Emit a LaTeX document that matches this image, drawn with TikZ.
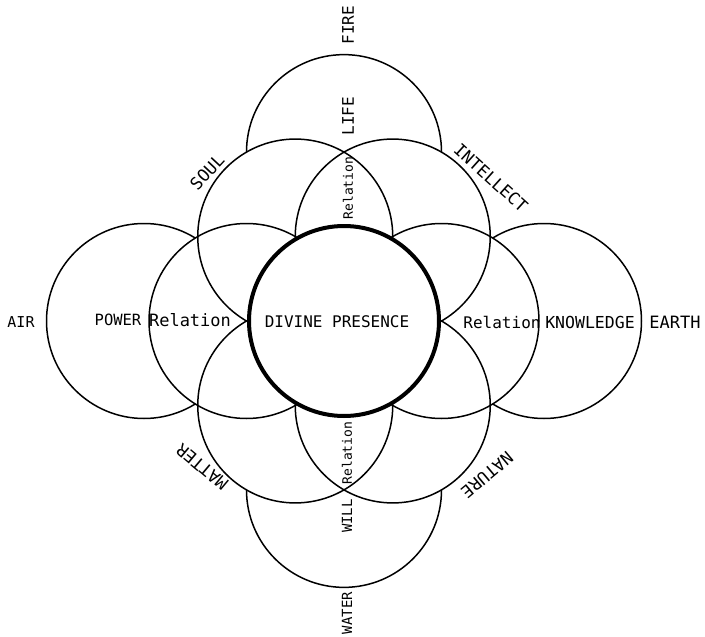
\documentclass[tikz,border=0pt]{standalone}
\usepackage{fontspec}
\setmainfont{DejaVu Sans Mono}
\newcommand{\fs}[1]{\fontsize{#1}{#1}\selectfont}
\begin{document}
\begin{tikzpicture}[x=1pt,y=1pt,
  ring/.style={line width=1.5pt},
  holy/.style={line width=4pt, fill=white},
  lbl/.style={inner sep=0pt, text=black},
]
\useasboundingbox (0,0) rectangle (705,-637);
\fill[white] (0,0) rectangle (705,-637);
\begin{scope}[shift={(344,-321)}]
  % outer circles: fire, water, air, earth
  \draw[ring] (90:168.87) circle[radius=97.5pt];
  \draw[ring] (270:168.87) circle[radius=97.5pt];
  \draw[ring] (180:200) circle[radius=97.5pt];
  \draw[ring] (0:200) circle[radius=97.5pt];
  % hide the outer circles under the six petals
  \foreach \a in {0,60,120,180,240,300}
    \fill[white] (\a:97.5) circle[radius=97.5pt];
  % six petal circles
  \foreach \a in {0,60,120,180,240,300}
    \draw[ring] (\a:97.5) circle[radius=97.5pt];
  % divine presence circle
  \draw[holy] (0,0) circle[radius=95pt];
\end{scope}
% labels
\node[lbl, font=\fs{16}, rotate=90] (fire) at (348,-25) {FIRE};
\node[lbl, font=\fs{16}, rotate=90] (life) at (348,-116) {LIFE};
\node[lbl, font=\fs{13}, rotate=90] (reltop) at (348,-188) {Relation};
\node[lbl, font=\fs{17}, rotate=47] (soul) at (207,-172) {SOUL};
\node[lbl, font=\fs{17}, rotate=-42] (intellect) at (491,-178) {INTELLECT};
\node[lbl, font=\fs{15}] (air) at (21,-322) {AIR};
\node[lbl, font=\fs{15.5}] (power) at (118,-320) {POWER};
\node[lbl, font=\fs{17}] (relleft) at (190,-320) {Relation};
\node[lbl, font=\fs{16}] (divine) at (337,-322) {DIVINE PRESENCE};
\node[lbl, font=\fs{16}] (relright) at (502,-322) {Relation};
\node[lbl, font=\fs{16.5}] (knowledge) at (590,-322) {KNOWLEDGE};
\node[lbl, font=\fs{17}] (earth) at (675,-322) {EARTH};
\node[lbl, font=\fs{17}, rotate=140] (matter) at (202,-467) {MATTER};
\node[lbl, font=\fs{17}, rotate=-140] (nature) at (487,-475) {NATURE};
\node[lbl, font=\fs{13}, rotate=90] (relbottom) at (347,-453) {Relation};
\node[lbl, font=\fs{14}, rotate=90] (will) at (347,-516) {WILL};
\node[lbl, font=\fs{14}, rotate=90] (water) at (347,-613) {WATER};
\end{tikzpicture}
\end{document}
